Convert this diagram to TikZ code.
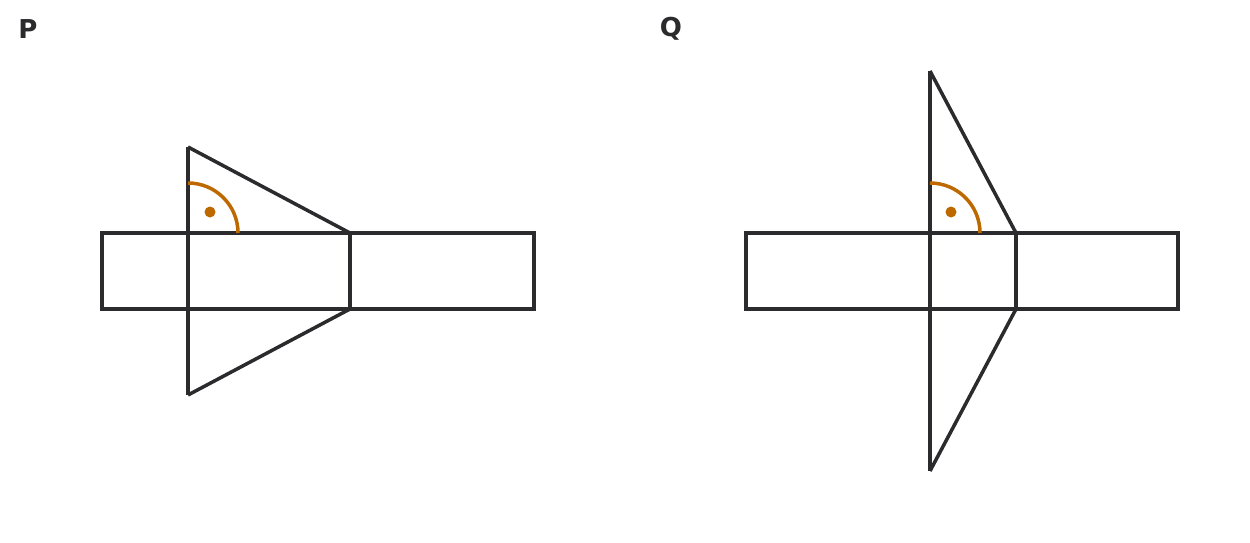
\documentclass[tikz,border=0pt]{standalone}
\usepackage{fontspec}
\setmainfont{DejaVu Sans}
\definecolor{edgegray}{RGB}{43,43,45}
\definecolor{anglecol}{RGB}{190,104,0}
\tikzset{
    netline/.style={draw=edgegray, line width=3.5pt, line join=miter},
    anglearc/.style={draw=anglecol, line width=3.5pt},
    angledot/.style={fill=anglecol, circle, inner sep=0pt, minimum size=11pt},
    tag/.style={text=edgegray, font=\fontsize{26}{30}\selectfont\bfseries}
}
\begin{document}
\begin{tikzpicture}[x=1pt, y=-1pt]
    \useasboundingbox (0,0) rectangle (1250,543);
    % net P
    \node[tag] (P) at (28,29) {P};
    \coordinate (Pa) at (188,147);
    \coordinate (Pb) at (188,395);
    \coordinate (Pc) at (350,233);
    \coordinate (Pd) at (350,309);
    \draw[netline] (102,233) rectangle (534,309);
    \draw[netline] (Pa) -- (Pb);
    \draw[netline] (Pc) -- (Pd);
    \draw[netline] (Pa) -- (Pc);
    \draw[netline] (Pb) -- (Pd);
    \draw[anglearc] (188,183) arc[start angle=90, end angle=0, radius=50pt];
    \node[angledot] (Pdot) at (210,212) {};
    % net Q
    \node[tag] (Q) at (671,29) {Q};
    \coordinate (Qa) at (930,71);
    \coordinate (Qb) at (930,471);
    \coordinate (Qc) at (1016,233);
    \coordinate (Qd) at (1016,309);
    \draw[netline] (746,233) rectangle (1178,309);
    \draw[netline] (Qa) -- (Qb);
    \draw[netline] (Qc) -- (Qd);
    \draw[netline] (Qa) -- (Qc);
    \draw[netline] (Qb) -- (Qd);
    \draw[anglearc] (930,183) arc[start angle=90, end angle=0, radius=50pt];
    \node[angledot] (Qdot) at (951,212) {};
\end{tikzpicture}
\end{document}
